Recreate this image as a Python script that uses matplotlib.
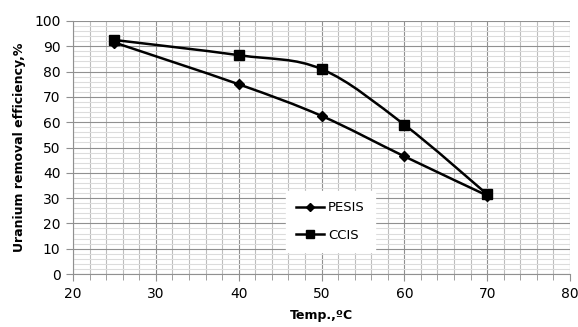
import matplotlib
matplotlib.use("Agg")
import matplotlib.pyplot as plt
from matplotlib.path import Path
from matplotlib.patches import PathPatch
from matplotlib.ticker import MultipleLocator
from matplotlib.lines import Line2D

temp = [25, 40, 50, 60, 70]
pesis = [91.5, 75, 62.5, 46.5, 31]
ccis = [92.5, 86.5, 81, 59, 31.5]


def smooth_path(xs, ys):
    # Excel-style smoothed line: cubic Bezier with tension 1/6
    pts = list(zip(xs, ys))
    verts = [pts[0]]
    codes = [Path.MOVETO]
    n = len(pts)
    for i in range(n - 1):
        p0 = pts[i - 1] if i > 0 else pts[i]
        p1 = pts[i]
        p2 = pts[i + 1]
        p3 = pts[i + 2] if i + 2 < n else pts[i + 1]
        c1 = (p1[0] + (p2[0] - p0[0]) / 6, p1[1] + (p2[1] - p0[1]) / 6)
        c2 = (p2[0] - (p3[0] - p1[0]) / 6, p2[1] - (p3[1] - p1[1]) / 6)
        verts += [c1, c2, p2]
        codes += [Path.CURVE4] * 3
    return Path(verts, codes)


fig = plt.figure(figsize=(5.78, 3.27), dpi=100)
ax = fig.add_axes([73 / 578, 53 / 327, 497 / 578, 253 / 327])

ax.set_xlim(20, 80)
ax.set_ylim(0, 100)
ax.xaxis.set_major_locator(MultipleLocator(10))
ax.xaxis.set_minor_locator(MultipleLocator(2))
ax.yaxis.set_major_locator(MultipleLocator(10))
ax.yaxis.set_minor_locator(MultipleLocator(2))
ax.grid(axis="x", which="minor", color="#bdbdbd", lw=0.8)
ax.grid(axis="y", which="minor", color="#dcdcdc", lw=0.8)
ax.grid(which="major", color="#909090", lw=0.8)
ax.set_axisbelow(True)
for s in ["top", "right"]:
    ax.spines[s].set_visible(False)
for s in ["left", "bottom"]:
    ax.spines[s].set_color("#909090")
ax.tick_params(which="major", length=5, color="#909090", labelsize=10, pad=4)
ax.tick_params(axis="x", which="minor", length=4, color="#909090")
ax.tick_params(axis="y", which="minor", length=0)

for ys in (pesis, ccis):
    ax.add_patch(PathPatch(smooth_path(temp, ys), fill=False, lw=1.8, edgecolor="black"))

ax.plot(temp, pesis, ls="none", marker="D", ms=5, color="black")
ax.plot(temp, ccis, ls="none", marker="s", ms=7.5, color="black")

handles = [
    Line2D([], [], color="black", lw=1.8, marker="D", ms=4),
    Line2D([], [], color="black", lw=1.8, marker="s", ms=6),
]
leg = ax.legend(handles, ["PESIS", "CCIS"], loc="lower left",
                bbox_to_anchor=(0.415, 0.06), frameon=True, fancybox=False,
                edgecolor="white", framealpha=1, fontsize=9.5,
                handlelength=2.1, handletextpad=0.3, labelspacing=1.1,
                borderpad=0.8)

ax.set_xlabel("Temp.,ºC", fontsize=9, fontweight="bold", labelpad=6)
ax.set_ylabel("Uranium removal efficiency,%", fontsize=9, fontweight="bold", labelpad=6)

fig.savefig("out.png", dpi=100)
